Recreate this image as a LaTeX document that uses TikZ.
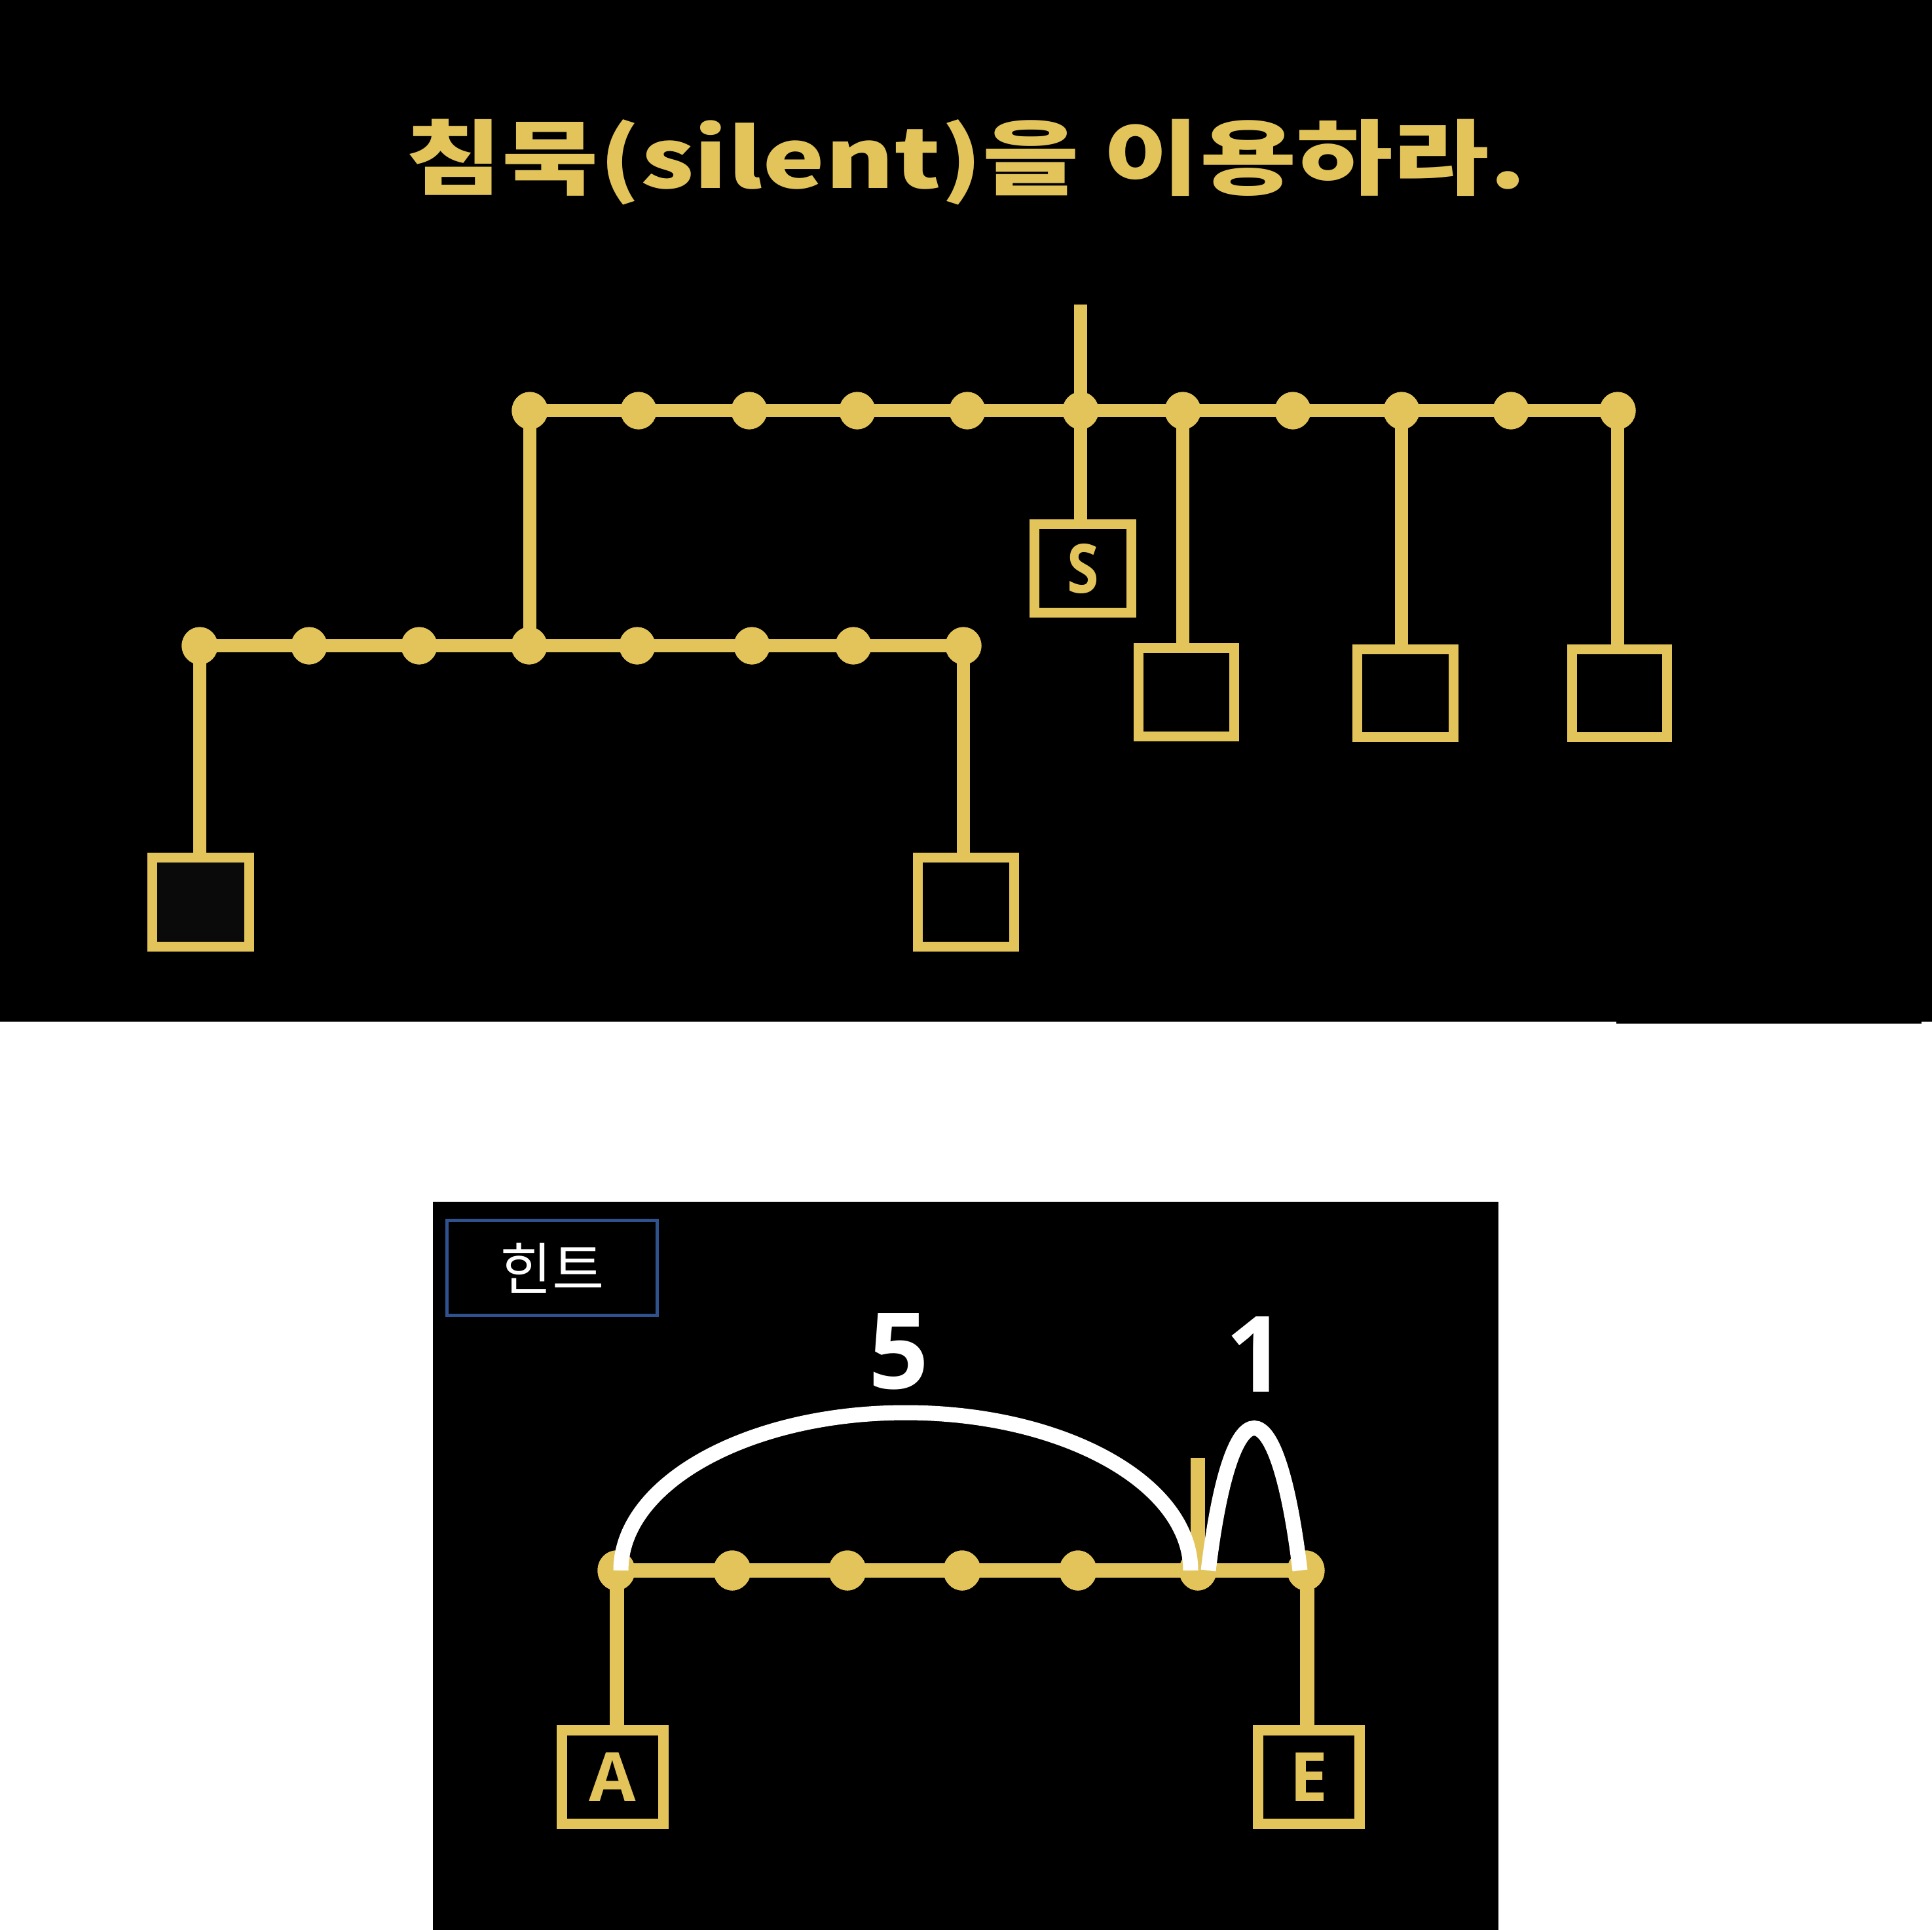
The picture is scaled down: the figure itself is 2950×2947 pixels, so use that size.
\documentclass[tikz,border=0pt]{standalone}
\usepackage{fontspec}
\usepackage{graphicx}
\usetikzlibrary{shapes.geometric}
\newfontfamily\krfont{Noto Sans CJK KR}
\newfontfamily\latfont{Open Sans}
\definecolor{gold}{HTML}{E2C45A}
\definecolor{hintblue}{HTML}{2F528F}
\definecolor{boxdark}{HTML}{0A0A0A}
\newcommand\labfont{\latfont\bfseries\fontsize{29.5}{33}\selectfont}
\newcommand\numfont{\latfont\bfseries\fontsize{45.8}{50}\selectfont}
\begin{document}
\begin{tikzpicture}[x=0.01cm,y=-0.01cm,
  topline/.style={draw=gold, line width=0.2cm},
  botline/.style={draw=gold, line width=0.22cm},
  topdot/.style={ellipse, fill=gold, inner sep=0pt, minimum width=0.55cm, minimum height=0.57cm},
  botdot/.style={ellipse, fill=gold, inner sep=0pt, minimum width=0.57cm, minimum height=0.61cm},
  topbox/.style={rectangle, draw=gold, line width=0.15cm, inner sep=0pt, text=gold, font=\labfont},
  botbox/.style={rectangle, draw=gold, line width=0.16cm, inner sep=0pt, text=gold, font=\labfont,
                 minimum width=1.55cm, minimum height=1.43cm},
  arcline/.style={draw=white, line width=0.23cm, line cap=butt},
  numlabel/.style={text=white, inner sep=0pt, font=\numfont}
]
\useasboundingbox (0,0) rectangle (2950,2947);
\fill[white] (0,0) rectangle (2950,2947);
% panels
\fill[black] (0,0) rectangle (2950,1560);
\fill[black] (2468,1560) rectangle (2934,1563);
\fill[black] (661,1835) rectangle (2288,2947);

% title
\node[inner sep=0pt, text=gold] (title) at (1475,248)
  {\resizebox*{17.1cm}{1.31cm}{\krfont\bfseries 침묵(silent)을 이용하라.}};

% ---------- top diagram ----------
\foreach \x [count=\i] in {809,975,1144,1309,1477,1650,1806,1974,2140,2307,2470}
  \node[topdot] (u\i) at (\x,627) {};
\foreach \x [count=\i] in {305,472,640,808,973,1148,1303,1471}
  \node[topdot] (l\i) at (\x,986) {};
\coordinate (stubtop) at (1650,465);

\node[topbox, minimum width=1.48cm, minimum height=1.35cm] (S) at (1653.5,868) {\scalebox{0.85}[1]{S}};
\node[topbox, minimum width=1.46cm, minimum height=1.35cm] (b2) at (1811.5,1057) {};
\node[topbox, minimum width=1.47cm, minimum height=1.34cm] (b3) at (2146,1058.5) {};
\node[topbox, minimum width=1.45cm, minimum height=1.34cm] (b4) at (2473,1058.5) {};
\node[topbox, fill=boxdark, minimum width=1.48cm, minimum height=1.36cm] (lb) at (306.5,1377.5) {};
\node[topbox, minimum width=1.47cm, minimum height=1.36cm] (rb) at (1475,1377.5) {};

\draw[topline] (stubtop) -- (u6.center);
\draw[topline] (u1.center) -- (u11.center);
\draw[topline] (l1.center) -- (l8.center);
\draw[topline] (u1.center) -- (u1.center |- l4.center);
\draw[topline] (u6.center) -- (u6.center |- S.north);
\draw[topline] (u7.center) -- (u7.center |- b2.north);
\draw[topline] (u9.center) -- (u9.center |- b3.north);
\draw[topline] (u11.center) -- (u11.center |- b4.north);
\draw[topline] (l1.center) -- (l1.center |- lb.north);
\draw[topline] (l8.center) -- (l8.center |- rb.north);
% dots on top of lines
\foreach \x in {809,975,1144,1309,1477,1650,1806,1974,2140,2307,2470}
  \fill[gold] (\x,627) ellipse[x radius=27.5, y radius=28.5];
\foreach \x in {305,472,640,808,973,1148,1303,1471}
  \fill[gold] (\x,986) ellipse[x radius=27.5, y radius=28.5];

% ---------- hint panel ----------
\node[draw=hintblue, line width=0.05cm, minimum width=3.21cm, minimum height=1.45cm, inner sep=0pt,
      text=white, font=\krfont\fontsize{24.5}{28}\selectfont] (hint) at (843,1936) {힌트};

\foreach \x [count=\i] in {941,1118,1294,1469,1646,1829,1994}
  \node[botdot] (d\i) at (\x,2398) {};
\coordinate (stub2) at (1829,2226);
\node[botbox] (A) at (935.5,2713.5) {A};
\node[botbox] (E) at (1998.5,2713.5) {E};

\draw[botline] (d1.center) -- (d7.center);
\draw[botline] (stub2) -- (d6.center);
\draw[botline] (942,2398) -- (942,2713.5 |- A.north);
\draw[botline] (1996,2398) -- (1996,2713.5 |- E.north);
\foreach \x in {941,1118,1294,1469,1646,1829,1994}
  \fill[gold] (\x,2398) ellipse[x radius=28.5, y radius=30.5];

% white arcs
\coordinate (bigL) at (948,2398);
\coordinate (bigR) at (1818,2398);
\coordinate (bigT) at (1383,2157);
\coordinate (smL) at (1845,2398);
\coordinate (smR) at (1985,2398);
\draw[arcline] (bigL) .. controls (948,2264.9) and (1142.7,2157) .. (bigT)
                      .. controls (1623.3,2157) and (1818,2264.9) .. (bigR);
\draw[arcline] (smL) .. controls (1880,2108) and (1950,2108) .. (smR);

\node[numlabel] (n5) at (1372,2064) {5};
\node[numlabel] (n1) at (1917,2068) {1};
\end{tikzpicture}
\end{document}
